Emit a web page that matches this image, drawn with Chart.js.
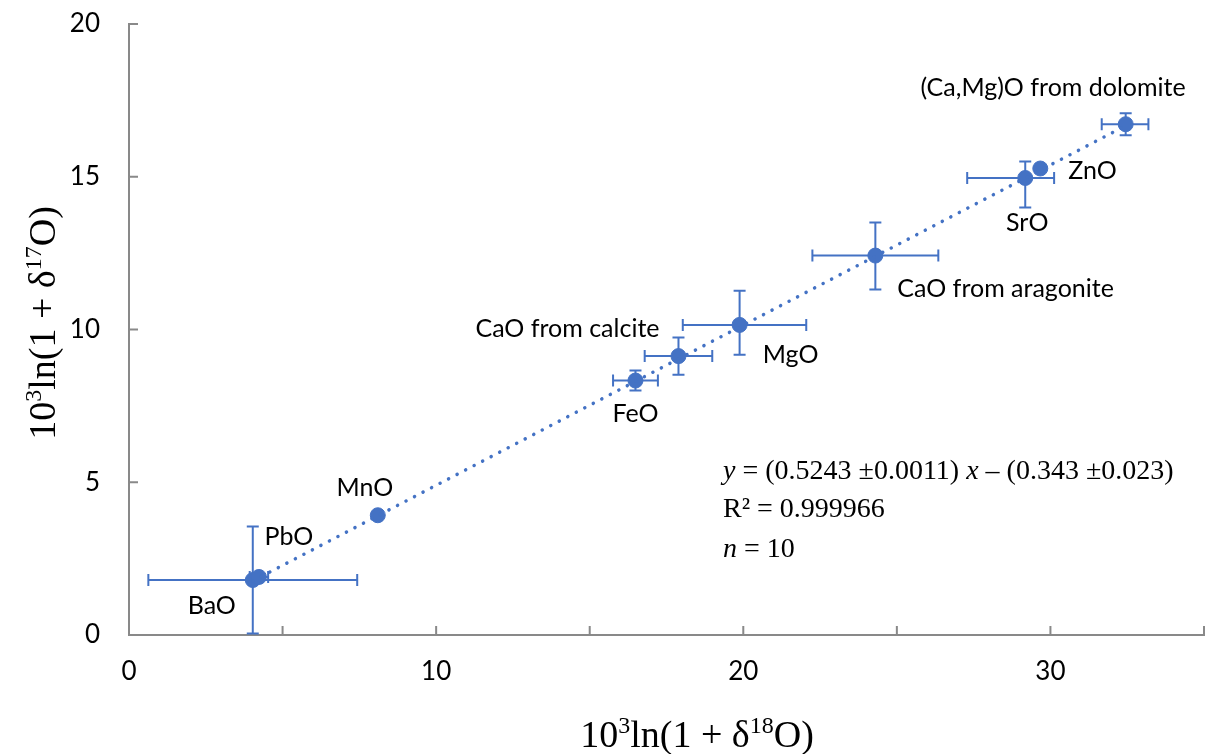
<!DOCTYPE html>
<html>
<head>
<meta charset="utf-8">
<script src="https://cdn.jsdelivr.net/npm/chart.js@4.4.1/dist/chart.umd.min.js"></script>
<style>
  html, body { margin: 0; padding: 0; background: #fff; overflow: hidden; }
  #wrap { width: 1206px; height: 754px; position: relative; }
  #oxideChart { display: block; }
</style>
</head>
<body>
<div id="wrap"><canvas id="oxideChart"></canvas></div>
<script>
// Oxide data
const oxides = ['BaO', 'PbO', 'MnO', 'FeO', 'CaO from calcite', 'MgO', 'CaO from aragonite', 'SrO', 'ZnO', '(Ca,Mg)O from dolomite'];
const d18 = [4.03, 4.23, 8.10, 16.49, 17.89, 19.88, 24.30, 29.18, 29.67, 32.45];
const d17 = [1.80, 1.90, 3.92, 8.33, 9.13, 10.15, 12.42, 14.96, 15.27, 16.72];
// error bars (minus / plus side)
const d18ErrLow = [3.40, 0.30, 0.10, 0.73, 1.10, 1.85, 2.05, 1.89, 0, 0.78];
const d18ErrHigh = [3.40, 0.30, 0.10, 0.73, 1.10, 2.17, 2.05, 0.94, 0, 0.74];
const d17ErrLow = [1.75, 0, 0.05, 0.33, 0.61, 0.98, 1.11, 0.97, 0, 0.36];
const d17ErrHigh = [1.75, 0, 0.05, 0.33, 0.61, 1.12, 1.08, 0.54, 0, 0.36];

// Fit reported on the figure
const slope = 0.5243;
const intercept = -0.343;
const labeledXTicks = [0, 10, 20, 30];

const BLUE = '#4472C4';
const AXIS = '#898989';
const SANS = 'Lato, "Noto Sans", sans-serif';
const SERIF = '"Liberation Serif", "Times New Roman", serif';

// label placement relative to point (pixels) and alignment
const labelPlace = [
    [-41, 26, 'center'], [30, -40, 'center'], [-13, -27, 'center'], [0, 33, 'center'],
    [-19, -27, 'right'], [51, 30, 'center'], [22, 33, 'left'], [2, 45, 'center'],
    [28, 2, 'left'], [60, -36, 'right']
];

const points = d18.map((x, i) => ({ x: x, y: d17[i] }));
const xMin = Math.min(...d18), xMax = Math.max(...d18);
const trend = [
    { x: xMin, y: slope * xMin + intercept },
    { x: xMax, y: slope * xMax + intercept }
];

// draw a run of text pieces, some superscript / italic
function drawRich(ctx, parts, x, y, size, align) {
    const fontFor = p => (p.it ? 'italic ' : '') + (p.sup ? Math.round(size * 0.62) : size) + 'px ' + SERIF;
    let total = 0;
    parts.forEach(p => { ctx.font = fontFor(p); total += ctx.measureText(p.t).width; });
    let cx = align === 'center' ? x - total / 2 : x;
    ctx.textAlign = 'left';
    ctx.textBaseline = 'alphabetic';
    parts.forEach(p => {
        ctx.font = fontFor(p);
        ctx.fillText(p.t, cx, p.sup ? y - size * 0.36 : y);
        cx += ctx.measureText(p.t).width;
    });
}

const errorBars = {
    id: 'errorBars',
    beforeDatasetsDraw(chart) {
        const { ctx, scales: { x, y } } = chart;
        const cap = 6;
        ctx.save();
        ctx.strokeStyle = BLUE;
        ctx.lineWidth = 2;
        d18.forEach((v, i) => {
            const px = x.getPixelForValue(v), py = y.getPixelForValue(d17[i]);
            if (d18ErrLow[i] > 0 || d18ErrHigh[i] > 0) {
                const l = x.getPixelForValue(v - d18ErrLow[i]), r = x.getPixelForValue(v + d18ErrHigh[i]);
                ctx.beginPath();
                ctx.moveTo(l, py); ctx.lineTo(r, py);
                ctx.moveTo(l, py - cap); ctx.lineTo(l, py + cap);
                ctx.moveTo(r, py - cap); ctx.lineTo(r, py + cap);
                ctx.stroke();
            }
            if (d17ErrLow[i] > 0 || d17ErrHigh[i] > 0) {
                const t = y.getPixelForValue(d17[i] + d17ErrHigh[i]), b = y.getPixelForValue(d17[i] - d17ErrLow[i]);
                ctx.beginPath();
                ctx.moveTo(px, t); ctx.lineTo(px, b);
                ctx.moveTo(px - cap, t); ctx.lineTo(px + cap, t);
                ctx.moveTo(px - cap, b); ctx.lineTo(px + cap, b);
                ctx.stroke();
            }
        });
        ctx.restore();
    }
};

const decorations = {
    id: 'decorations',
    afterDraw(chart) {
        const { ctx, chartArea, scales: { x, y } } = chart;
        ctx.save();
        // inward tick marks
        ctx.strokeStyle = AXIS;
        ctx.lineWidth = 2;
        ctx.beginPath();
        x.ticks.forEach(t => {
            const px = x.getPixelForValue(t.value);
            ctx.moveTo(px, chartArea.bottom); ctx.lineTo(px, chartArea.bottom - 9);
        });
        y.ticks.forEach(t => {
            const py = y.getPixelForValue(t.value);
            ctx.moveTo(chartArea.left, py); ctx.lineTo(chartArea.left + 9, py);
        });
        ctx.stroke();

        // point labels
        const meta = chart.getDatasetMeta(1);
        ctx.fillStyle = '#000';
        ctx.font = '25px ' + SANS;
        ctx.textBaseline = 'middle';
        meta.data.forEach((el, i) => {
            const [dx, dy, align] = labelPlace[i];
            ctx.textAlign = align;
            ctx.fillText(oxides[i], el.x + dx, el.y + dy);
        });

        // equation block
        const ex = 723;
        drawRich(ctx, [{ t: 'y', it: true }, { t: ' = (0.5243 \u00b10.0011) ' }, { t: 'x', it: true }, { t: ' \u2013 (0.343 \u00b10.023)' }], ex, 479, 28, 'left');
        drawRich(ctx, [{ t: 'R\u00b2 = 0.999966' }], ex, 517, 28, 'left');
        drawRich(ctx, [{ t: 'n', it: true }, { t: ' = 10' }], ex, 557, 28, 'left');

        // axis titles
        drawRich(ctx, [{ t: '10' }, { t: '3', sup: true }, { t: 'ln(1 + \u03b4' }, { t: '18', sup: true }, { t: 'O)' }],
            697, 747, 38, 'center');
        ctx.translate(55, 323);
        ctx.rotate(-Math.PI / 2);
        drawRich(ctx, [{ t: '10' }, { t: '3', sup: true }, { t: 'ln(1 + \u03b4' }, { t: '17', sup: true }, { t: 'O)' }],
            0, 0, 38, 'center');
        ctx.restore();
    }
};

new Chart(document.getElementById('oxideChart'), {
    type: 'scatter',
    data: {
        datasets: [{
            type: 'line',
            data: trend,
            borderColor: BLUE,
            borderWidth: 3.5,
            borderDash: [0.1, 9.5],
            borderCapStyle: 'round',
            pointRadius: 0,
            fill: false
        }, {
            data: points,
            backgroundColor: BLUE,
            borderColor: BLUE,
            pointRadius: 7.5,
            pointHoverRadius: 7.5
        }]
    },
    options: {
        responsive: true,
        maintainAspectRatio: false,
        animation: false,
        layout: { autoPadding: false, padding: { top: 24, right: 2, left: 0, bottom: 0 } },
        plugins: {
            legend: { display: false },
            tooltip: { enabled: false }
        },
        scales: {
            x: {
                type: 'linear',
                min: 0,
                max: 35,
                grid: { display: false, drawTicks: false },
                border: { display: true, color: AXIS, width: 2 },
                afterFit: scale => {
                    scale.height = 119;
                    scale.paddingLeft = 0;
                    scale.paddingRight = 0;
                },
                ticks: {
                    stepSize: 5,
                    padding: 21,
                    color: '#000',
                    font: { size: 26, family: SANS },
                    maxRotation: 0,
                    autoSkip: false,
                    callback: v => labeledXTicks.includes(v) ? String(v) : ''
                }
            },
            y: {
                type: 'linear',
                min: 0,
                max: 20,
                grid: { display: false, drawTicks: false },
                border: { display: true, color: AXIS, width: 2 },
                afterFit: scale => {
                    scale.width = 129;
                    scale.paddingTop = 0;
                    scale.paddingBottom = 0;
                },
                ticks: {
                    stepSize: 5,
                    padding: 29,
                    color: '#000',
                    font: { size: 26, family: SANS }
                }
            }
        }
    },
    plugins: [errorBars, decorations]
});
</script>
</body>
</html>
